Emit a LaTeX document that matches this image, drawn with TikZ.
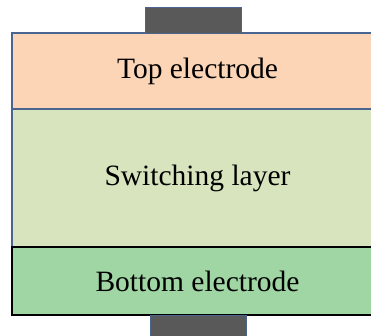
\documentclass[tikz,border=0pt]{standalone}
\usepackage{fontspec}
\setmainfont{Liberation Serif}
\usetikzlibrary{positioning}

\definecolor{peach}{HTML}{FBD5B5}
\definecolor{paleolive}{HTML}{D7E4BD}
\definecolor{midgreen}{HTML}{A0D5A4}
\definecolor{edgeblue}{HTML}{4A6590}
\definecolor{padgray}{HTML}{595959}

\begin{document}
\begin{tikzpicture}[
  x=1pt, y=1pt,
  node distance=0pt,
  every node/.style={font=\fontsize{29.5}{34}\selectfont},
  layer/.style={
    draw=edgeblue,
    line width=1.5pt,
    outer sep=0pt,
    minimum width=371pt,
    align=center
  },
  pad/.style={
    fill=padgray,
    draw=edgeblue,
    line width=0.6pt,
    outer sep=0pt,
    minimum width=96pt,
    inner sep=0pt
  }
]
\useasboundingbox (0,0) rectangle (371,335);
% layers of the stack
\node[layer, fill=peach, minimum height=76pt, anchor=north west] (top) at (12,302) {Top electrode};
\node[layer, fill=paleolive, minimum height=138pt, below=of top] (switch) {Switching layer};
\node[layer, fill=midgreen, draw=black, minimum height=68pt, below=of switch] (bottom) {Bottom electrode};
% contact pads
\node[pad, minimum height=26pt, anchor=south] (toppad) at (193,302) {};
\node[pad, minimum height=24pt, anchor=north] (botpad) at (198,20) {};
\end{tikzpicture}
\end{document}
